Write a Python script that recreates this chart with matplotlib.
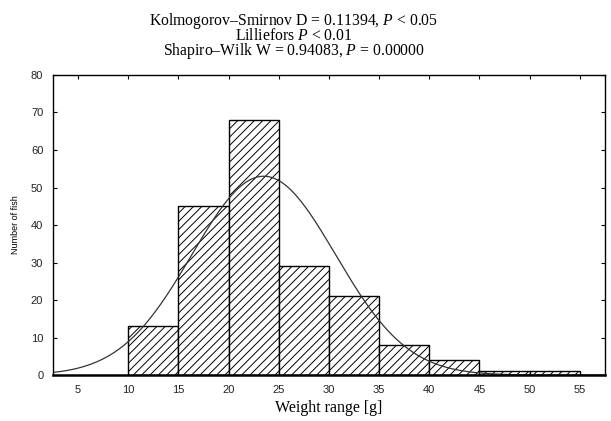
import numpy as np
import matplotlib
matplotlib.use("Agg")
import matplotlib.pyplot as plt

# histogram data: bin edges (g) and counts
bin_edges = [10, 15, 20, 25, 30, 35, 40, 45, 50, 55]
counts = [13, 45, 68, 29, 21, 8, 4, 1, 1]
xticks = [5, 10, 15, 20, 25, 30, 35, 40, 45, 50, 55]
yticks = [0, 10, 20, 30, 40, 50, 60, 70, 80]

# fitted normal curve parameters
fit_mean = 23.5
fit_sd = 7.15

plt.rcParams['hatch.linewidth'] = 0.7
plt.rcParams['hatch.color'] = '#222222'
plt.rcParams['mathtext.fontset'] = 'custom'
plt.rcParams['mathtext.it'] = 'Liberation Serif:italic'

fig = plt.figure(figsize=(6.11, 4.21), dpi=100)
ax = fig.add_axes([0.0867, 0.109, 0.9033, 0.713])

widths = np.diff(bin_edges)
ax.bar(bin_edges[:-1], counts, width=widths, align='edge',
       facecolor='white', edgecolor='black', hatch='////', linewidth=1.0)

n = sum(counts)
xs = np.linspace(2.5, 57.5, 400)
ys = n * 5 / (fit_sd * np.sqrt(2 * np.pi)) * np.exp(-0.5 * ((xs - fit_mean) / fit_sd) ** 2)
ax.plot(xs, ys, color='#333333', linewidth=0.9)

ax.set_xlim(2.5, 57.5)
ax.set_ylim(0, 80)
ax.set_xticks(xticks)
ax.set_yticks(yticks)
ax.tick_params(direction='in', length=3, width=0.8, labelsize=8,
               top=True, right=True, bottom=False, pad=7, labelcolor='#222222')
for lab in ax.get_xticklabels() + ax.get_yticklabels():
    lab.set_family('Liberation Sans')
for s in ax.spines.values():
    s.set_linewidth(1.0)
ax.spines['bottom'].set_linewidth(1.8)

ax.set_xlabel('Weight range [g]', family='Liberation Serif', fontsize=11.5, labelpad=4)
ax.set_ylabel('Number of fish', family='Liberation Sans', fontsize=6.5, labelpad=8)

title = ('Kolmogorov\u2013Smirnov D = 0.11394, $\\it{P}$ < 0.05\n'
         'Lilliefors $\\it{P}$ < 0.01\n'
         'Shapiro\u2013Wilk W = 0.94083, $\\it{P}$ = 0.00000')
fig.text(0.481, 0.975, title, ha='center', va='top', family='Liberation Serif',
         fontsize=11.3, linespacing=0.78)

fig.savefig('out.png', dpi=100)
